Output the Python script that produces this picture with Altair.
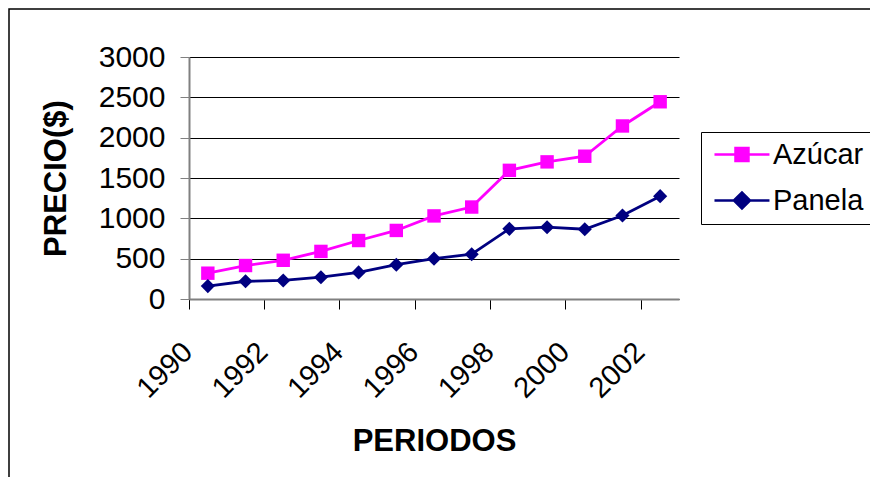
import altair as alt
import pandas as pd

years = list(range(1990, 2003))
azucar = [320, 415, 480, 590, 725, 850, 1030, 1140, 1595, 1700, 1770, 2145, 2445]
panela = [160, 220, 230, 270, 330, 425, 500, 555, 870, 890, 865, 1035, 1275]
series = ["Azúcar", "Panela"]
colors = ["#FF00FF", "#000080"]
y_ticks = [0, 500, 1000, 1500, 2000, 2500, 3000]
x_labels = [1990, 1992, 1994, 1996, 1998, 2000, 2002]

rows = []
for yr, a, p in zip(years, azucar, panela):
    rows.append({"anio": yr, "serie": series[0], "precio": a})
    rows.append({"anio": yr, "serie": series[1], "precio": p})
df = pd.DataFrame(rows)

FONT = "Liberation Sans"

# legend symbols: line segment + marker (custom SVG paths)
sq_path = "M-0.82,0H4.18M1.09,-0.59H2.27V0.59H1.09Z"
dm_path = "M-0.82,0H4.18M0.95,0L1.68,-0.73L2.41,0L1.68,0.73Z"

legend = alt.Legend(
    title=None,
    orient="none",
    legendX=512,
    legendY=75,
    symbolSize=484,
    symbolStrokeWidth=2.5,
    symbolOpacity=1,
    labelFont=FONT,
    labelFontSize=29,
    labelColor="black",
    labelOffset=35,
    labelLimit=300,
    rowPadding=16,
    padding=8,
    strokeColor="black",
    fillColor="white",
)

color = alt.Color("serie:N", scale=alt.Scale(domain=series, range=colors), legend=None)

x = alt.X(
    "anio:O",
    scale=alt.Scale(type="band", paddingInner=0, paddingOuter=0),
    axis=alt.Axis(
        values=x_labels,
        bandPosition=0,
        labelAngle=-45,
        labelAlign="right",
        labelBaseline="top",
        labelFont=FONT,
        labelFontSize=29,
        labelColor="black",
        labelPadding=28,
        labelOffset=-30,
        labelOverlap=False,
        tickSize=10,
        tickColor="black",
        domainColor="#808080",
        domainWidth=2,
        grid=False,
        title="PERIODOS",
        titleFont=FONT,
        titleFontSize=31,
        titleFontWeight="bold",
        titleColor="black",
        titleX=245,
        titleY=151,
        titleBaseline="alphabetic",
        titleAlign="center",
    ),
)

y = alt.Y(
    "precio:Q",
    scale=alt.Scale(domain=[0, 3000], nice=False),
    axis=alt.Axis(
        values=y_ticks,
        format="d",
        grid=True,
        gridColor="black",
        gridWidth=1,
        tickSize=9,
        tickColor="#808080",
        domainColor="#808080",
        domainWidth=2,
        labelFont=FONT,
        labelFontSize=30,
        labelColor="black",
        labelPadding=15,
        title="PRECIO($)",
        titleFont=FONT,
        titleFontSize=31,
        titleFontWeight="bold",
        titleColor="black",
        titleX=-124,
        titleY=121,
        titleAngle=-90,
        titleBaseline="alphabetic",
        titleAlign="center",
    ),
)

base = alt.Chart(df)
lines = base.mark_line(strokeWidth=2.8).encode(x=x, y=y, color=color)
pts_az = base.transform_filter(alt.datum.serie == series[0]).mark_point(
    shape="square", filled=True, opacity=1
).encode(x=x, y=y, color=color, size=alt.value(180))
pts_pa = base.transform_filter(alt.datum.serie == series[1]).mark_point(
    shape="diamond", filled=True, opacity=1
).encode(x=x, y=y, color=color, size=alt.value(200))

# legend-only layer: marks drawn with zero size under the real points
leg_layer = base.mark_point(filled=True, opacity=1, strokeWidth=2.5).encode(
    x=x,
    y=y,
    size=alt.value(0),
    fill=alt.Fill("serie:N", scale=alt.Scale(domain=series, range=colors), legend=legend),
    stroke=alt.Stroke("serie:N", scale=alt.Scale(domain=series, range=colors), legend=legend),
    shape=alt.Shape("serie:N", scale=alt.Scale(domain=series, range=[sq_path, dm_path]), legend=legend),
)

border = alt.Chart(alt.Data(values=[{"k": 1}])).mark_rect(
    fill="transparent", stroke="black", strokeWidth=1.5
).encode(
    x=alt.value(-180), x2=alt.value(900), y=alt.value(-48), y2=alt.value(700)
)

chart = alt.layer(border, leg_layer, lines, pts_az, pts_pa).properties(
    width=490,
    height=242,
    autosize=alt.AutoSizeParams(type="none"),
    padding={"left": 181, "top": 49, "right": 191, "bottom": 178},
    background="white",
).configure_view(stroke=None)

chart.save("out.html", embed_options={"renderer": "svg", "actions": False})
